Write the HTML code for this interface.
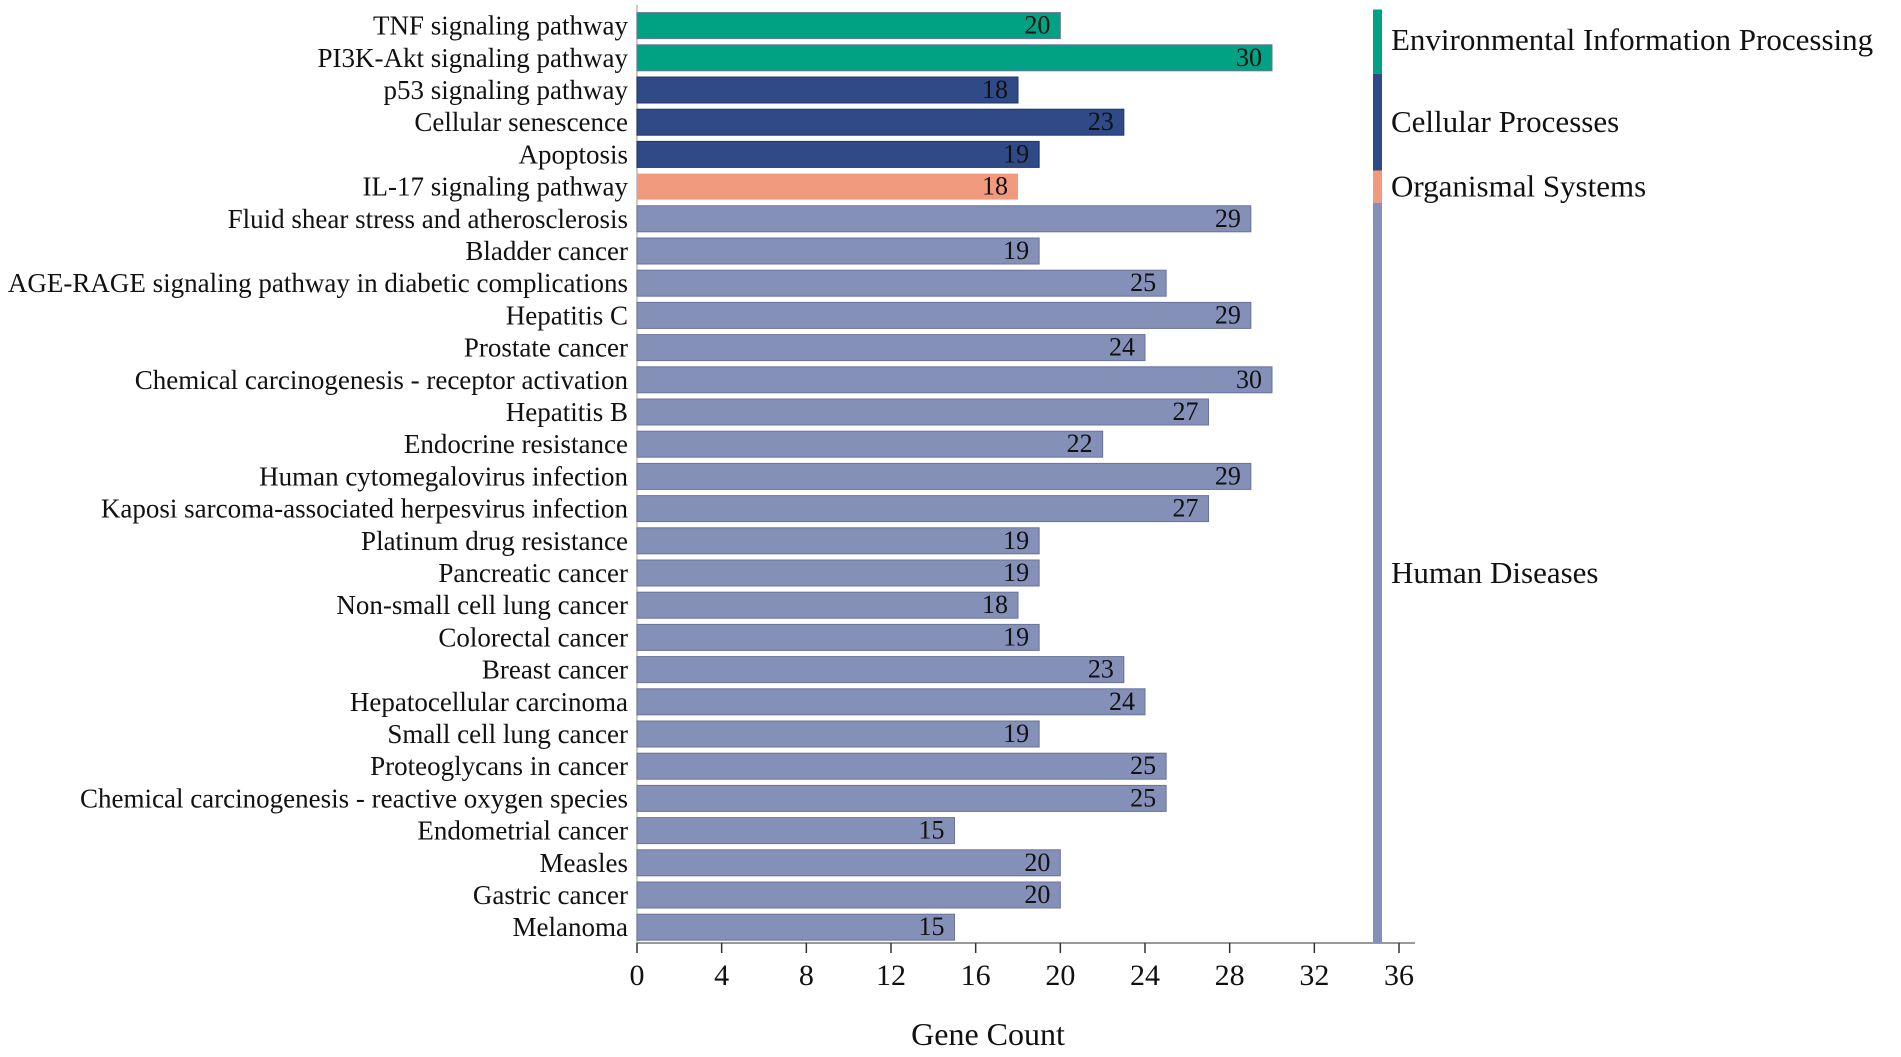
<!DOCTYPE html>
<html><head><meta charset="utf-8"><style>
html,body{margin:0;padding:0;background:#fff;}
svg{display:block;font-family:"Liberation Serif",serif;}
</style></head><body>
<svg id="chart" width="1901" height="1057" viewBox="0 0 1901 1057"></svg>
<script>
const categories=["TNF signaling pathway","PI3K-Akt signaling pathway","p53 signaling pathway","Cellular senescence","Apoptosis","IL-17 signaling pathway","Fluid shear stress and atherosclerosis","Bladder cancer","AGE-RAGE signaling pathway in diabetic complications","Hepatitis C","Prostate cancer","Chemical carcinogenesis - receptor activation","Hepatitis B","Endocrine resistance","Human cytomegalovirus infection","Kaposi sarcoma-associated herpesvirus infection","Platinum drug resistance","Pancreatic cancer","Non-small cell lung cancer","Colorectal cancer","Breast cancer","Hepatocellular carcinoma","Small cell lung cancer","Proteoglycans in cancer","Chemical carcinogenesis - reactive oxygen species","Endometrial cancer","Measles","Gastric cancer","Melanoma"];
const values=[20,30,18,23,19,18,29,19,25,29,24,30,27,22,29,27,19,19,18,19,23,24,19,25,25,15,20,20,15];
const groupNames=["Environmental Information Processing","Cellular Processes","Organismal Systems","Human Diseases"];
const groupSizes=[2,3,1,23];
const ticks=[0,4,8,12,16,20,24,28,32,36];
const colors=["#00a283","#2f4a87","#f19a7d","#8590b8"];
const NS="http://www.w3.org/2000/svg";
const svg=document.getElementById('chart');
const x0=637,x1=1399,xMax=36,top0=9.5,pitch=32.2,barH=26,axisY=943;
const X=v=>x0+(x1-x0)*v/xMax;
const Y=i=>top0+i*pitch+(pitch-barH)/2;
function mk(t,a,txt){const e=document.createElementNS(NS,t);for(const k in a)e.setAttribute(k,a[k]);if(txt!==undefined)e.textContent=txt;svg.appendChild(e);return e;}
let yl=mk('line',{x1:x0,y1:5,x2:x0,y2:axisY,stroke:'#bbb','stroke-width':1.5});


const groupOf=[];groupSizes.forEach((n,g)=>{for(let k=0;k<n;k++)groupOf.push(g);});
categories.forEach((c,i)=>{
  const y=Y(i);
  const r=mk('rect',{x:X(0),y:y,width:X(values[i])-X(0),height:barH,fill:colors[groupOf[i]],stroke:groupOf[i]==1?'#1f3570':'#6a7399','stroke-width':groupOf[i]==2?0:1});
  
  
  const l=mk('text',{x:628,y:y+barH/2+9,'text-anchor':'end','font-size':27,fill:'#111'},c);
  
  
  const v=mk('text',{x:X(values[i])-10,y:y+barH/2+8,'text-anchor':'end','font-size':26,fill:'#111'},values[i]);
  
  
});
let ax=mk('line',{x1:x0,y1:axisY,x2:1415,y2:axisY,stroke:'#999','stroke-width':2});


ticks.forEach(t=>{
  const tk=mk('line',{x1:X(t),y1:axisY,x2:X(t),y2:axisY+10,stroke:'#333','stroke-width':1.5});
  
  
  const tl=mk('text',{x:X(t),y:985,'text-anchor':'middle','font-size':30,fill:'#111'},t);
  
  
});
let xt=mk('text',{x:988,y:1045,'text-anchor':'middle','font-size':32,fill:'#111'},'Gene Count');


let start=0;
groupSizes.forEach((n,g)=>{
  const yA=top0+start*pitch, yB=top0+(start+n)*pitch;
  const s=mk('rect',{x:1373,y:yA,width:9,height:(g==3?axisY:yB)-yA,fill:colors[g]});
  
  
  const ty=g==0?50:(g==3?(yA+axisY)/2+10:(yA+yB)/2+10);
  const t=mk('text',{x:1391,y:ty,'font-size':31,fill:'#111'},groupNames[g]);
  
  
  start+=n;
});
</script>
</body></html>
